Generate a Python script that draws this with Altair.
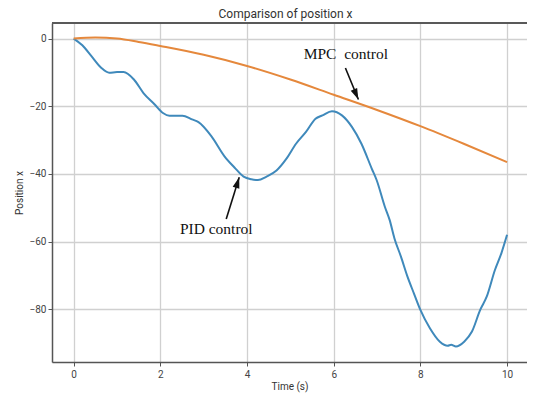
import altair as alt
import pandas as pd

# PID (blue) trajectory
pid_t = [0, 0.2, 0.41, 0.64, 0.82, 1.0, 1.15, 1.39, 1.61, 1.87, 2.06, 2.21, 2.51, 2.73, 2.88,
         3.18, 3.48, 3.71, 3.92, 4.1, 4.25, 4.45, 4.68, 4.91, 5.13, 5.36, 5.58, 5.74, 5.96,
         6.19, 6.42, 6.64, 6.88, 6.99, 7.18, 7.29, 7.40, 7.55, 7.70, 7.85, 8.0, 8.22, 8.45,
         8.63, 8.71, 8.82, 9.01, 9.19, 9.38, 9.53, 9.72, 9.87, 10.0]
pid_x = [0, -2.0, -5.2, -8.7, -10.1, -9.9, -9.9, -12.1, -16.1, -19.5, -22.0, -22.8, -22.8,
         -23.9, -24.7, -28.9, -34.8, -38.1, -40.8, -41.6, -41.8, -40.8, -39.0, -35.5, -31.1,
         -27.6, -23.7, -22.7, -21.5, -22.7, -26.1, -31.1, -38.5, -41.8, -49.7, -53.6, -59.0,
         -64.4, -70.3, -75.3, -80.2, -85.6, -89.6, -90.8, -90.5, -91.0, -89.6, -86.6, -80.2,
         -76.3, -68.4, -63.4, -58.0]

# MPC (orange) trajectory
mpc_t = [0, 0.5, 1.0, 1.5, 2.0, 3.0, 4.0, 5.0, 6.0, 7.0, 8.0, 9.0, 10.0]
mpc_x = [0, 0.3, 0.0, -1.0, -2.2, -4.8, -8.1, -12.1, -16.6, -21.1, -25.9, -31.1, -36.5]

# annotations (data coordinates)
ann_text = ["MPC\u00a0 control", "PID control"]
ann_tx = [6.28, 3.29]
ann_ty = [-4.7, -56.3]
arr_x0 = [6.27, 3.52]
arr_y0 = [-8.7, -53.3]
arr_x1 = [6.57, 3.82]
arr_y1 = [-18.0, -41.0]
arr_angle = [156, 17]

x_ticks = [0, 2, 4, 6, 8, 10]
y_ticks = [-80, -60, -40, -20, 0]

lines = pd.concat([
    pd.DataFrame({"t": pid_t, "x": pid_x, "series": "PID control"}),
    pd.DataFrame({"t": mpc_t, "x": mpc_x, "series": "MPC control"}),
])
ann = pd.DataFrame({"label": ann_text, "tx": ann_tx, "ty": ann_ty})
arrows = pd.DataFrame({"x0": arr_x0, "y0": arr_y0, "x1": arr_x1, "y1": arr_y1, "ang": arr_angle})

FONT = "Roboto, sans-serif"
W, H = 475, 339

xs = alt.Scale(domain=[-0.5, 10.46], nice=False, zero=False)
ys = alt.Scale(domain=[-95.6, 4.6], nice=False, zero=False)

x_axis = alt.Axis(values=x_ticks, title="Time (s)", grid=True, gridColor="#d0d0d0",
                  gridWidth=1.3, domainColor="#555", domainWidth=1.5, tickColor="#555",
                  tickSize=4, labelFontSize=10, labelColor="#444", labelFont=FONT,
                  titleFont=FONT, titleFontSize=10, titleFontWeight="normal",
                  titleColor="#333", labelPadding=3, titlePadding=2)
y_axis = alt.Axis(values=y_ticks, title="Position x", grid=True, gridColor="#d0d0d0",
                  gridWidth=1.3, domainColor="#555", domainWidth=1.5, tickColor="#555",
                  tickSize=4, labelFontSize=10, labelColor="#444", labelFont=FONT,
                  titleFont=FONT, titleFontSize=10, titleFontWeight="normal",
                  titleColor="#333", labelPadding=2, titlePadding=5)

base_lines = alt.Chart(lines).mark_line(strokeWidth=2, interpolate="monotone").encode(
    x=alt.X("t:Q", scale=xs, axis=x_axis),
    y=alt.Y("x:Q", scale=ys, axis=y_axis),
    color=alt.Color("series:N", scale=alt.Scale(domain=["PID control", "MPC control"],
                                                range=["#3f89bb", "#e5883c"]), legend=None),
    detail="series:N",
)

top_frame = alt.Chart(lines).mark_rule(color="#5a5a5a", strokeWidth=1.5).encode(
    x=alt.value(0), x2=alt.value(W), y=alt.value(0))

texts = alt.Chart(ann).mark_text(font="Liberation Serif", fontSize=15.5, color="#111",
                                 baseline="middle", align="center").encode(
    x=alt.X("tx:Q", scale=xs), y=alt.Y("ty:Q", scale=ys), text="label:N")

arrow_lines = alt.Chart(arrows).mark_rule(color="#111", strokeWidth=1.6).encode(
    x=alt.X("x0:Q", scale=xs), y=alt.Y("y0:Q", scale=ys), x2="x1:Q", y2="y1:Q")

arrow_heads = alt.Chart(arrows).mark_point(
    shape="M0,0L-0.7,2.2L0.7,2.2Z", filled=True, color="#111", size=100, opacity=1
).encode(x=alt.X("x1:Q", scale=xs), y=alt.Y("y1:Q", scale=ys), angle=alt.Angle("ang:Q", scale=None))

chart = alt.layer(base_lines, top_frame, arrow_lines, arrow_heads, texts).properties(
    width=W, height=H,
    title=alt.TitleParams("Comparison of position x", font=FONT, fontSize=12,
                          fontWeight="normal", color="#333", offset=1, dx=-4),
    autosize=alt.AutoSizeParams(type="none"),
    padding={"left": 44, "top": 15, "right": 0, "bottom": 33},
).configure_view(stroke=None).configure(background="white")

chart.save("out.html", embed_options={"renderer": "svg", "actions": False})
